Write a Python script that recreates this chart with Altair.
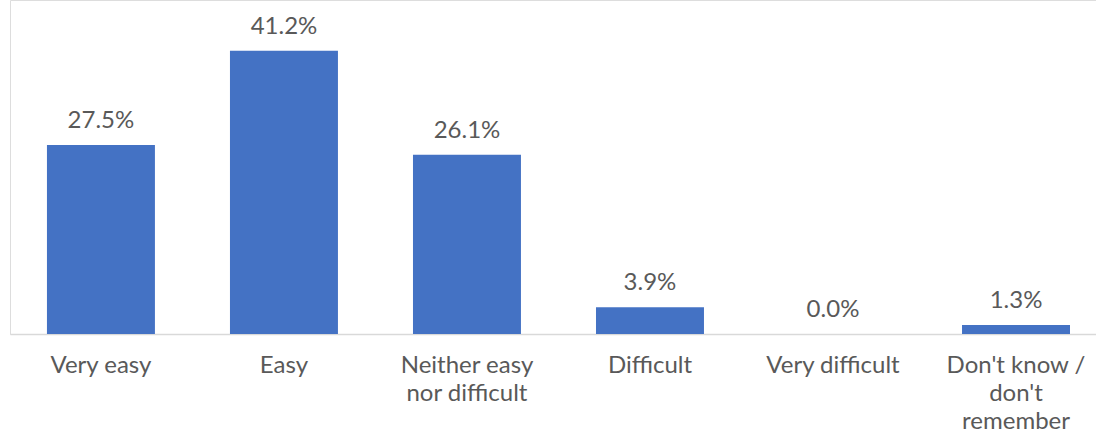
import altair as alt
import pandas as pd

categories = ["Very easy", "Easy", "Neither easy|nor difficult", "Difficult",
              "Very difficult", "Don't know /|don't|remember"]
values = [27.5, 41.2, 26.1, 3.9, 0.0, 1.3]

df = pd.DataFrame({
    "cat": categories,
    "val": values,
    "label": [f"{v:.1f}%" for v in values],
})

FONT = "Lato"
TXT = "#595959"

x = alt.X("cat:N", sort=categories, title=None,
          scale=alt.Scale(paddingInner=0.41, paddingOuter=0.172, align=0.587),
          axis=alt.Axis(labelAngle=0, labelExpr="split(datum.label, '|')",
                        labelFont=FONT, labelFontSize=24, labelColor=TXT,
                        labelLineHeight=28, labelPadding=19, labelBaseline="top",
                        ticks=False, domainColor="#D9D9D9", domainWidth=1.5,
                        labelLimit=300))
y = alt.Y("val:Q", scale=alt.Scale(domain=[0, 48.6], nice=False, zero=True),
          axis=None)

bars = alt.Chart(df).mark_bar(color="#4472C4").encode(x=x, y=y)
text = alt.Chart(df).mark_text(baseline="alphabetic", dy=-17, font=FONT,
                               fontSize=24, color=TXT).encode(
    x=alt.X("cat:N", sort=categories), y="val:Q", text="label:N")

chart = (bars + text).properties(
    width=1086, height=334,
    padding={"left": 10, "top": 0, "right": 0, "bottom": 101},
    autosize=alt.AutoSizeParams(type="none"),
).configure_view(strokeWidth=0).configure(background="white")

chart.save("out.html", embed_options={"renderer": "svg", "actions": False})
